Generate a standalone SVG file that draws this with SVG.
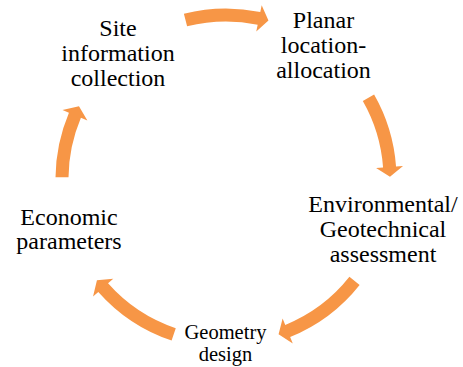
<svg xmlns="http://www.w3.org/2000/svg" width="463" height="367" viewBox="0 0 463 367">
<style>
text{font-family:"Liberation Serif","Times New Roman","DejaVu Serif",serif;font-size:24px;fill:#000;text-anchor:middle}
.sm{font-size:20.5px}
.arr{fill:#F79646}
</style>
<rect width="463" height="367" fill="#fff"/>
<g id="connectors">
<path class="arr" transform="translate(226,179) rotate(11.6)" d="M-74.47,-153.38 A170.5,170.5 0 0 1 0,-170.5 L0,-177.5 L9.73,-163.71 L0,-150.5 L0,-157.5 A157.5,157.5 0 0 0 -68.80,-141.69 Z"/>
<path class="arr" transform="translate(226,179) rotate(85.8)" d="M-73.40,-153.89 A170.5,170.5 0 0 1 0,-170.5 L0,-177.5 L9.73,-163.71 L0,-150.5 L0,-157.5 A157.5,157.5 0 0 0 -67.80,-142.16 Z"/>
<path class="arr" transform="translate(226,179) rotate(157.9)" d="M-83.95,-148.40 A170.5,170.5 0 0 1 0,-170.5 L0,-177.5 L9.73,-163.71 L0,-150.5 L0,-157.5 A157.5,157.5 0 0 0 -77.55,-137.09 Z"/>
<path class="arr" transform="translate(226,179) rotate(228.5)" d="M-84.99,-147.81 A170.5,170.5 0 0 1 0,-170.5 L0,-177.5 L9.73,-163.71 L0,-150.5 L0,-157.5 A157.5,157.5 0 0 0 -78.51,-136.54 Z"/>
<path class="arr" transform="translate(226,179) rotate(292.9)" d="M-64.70,-157.75 A170.5,170.5 0 0 1 0,-170.5 L0,-177.5 L9.73,-163.71 L0,-150.5 L0,-157.5 A157.5,157.5 0 0 0 -59.77,-145.72 Z"/>
</g>
<g id="site">
<text x="118" y="36" font-family="Liberation Serif, serif">Site</text>
<text x="118" y="61" font-family="Liberation Serif, serif">information</text>
<text x="118" y="86" font-family="Liberation Serif, serif">collection</text>
</g>
<g id="planar">
<text x="323.5" y="27.5" font-family="Liberation Serif, serif">Planar</text>
<text x="323.5" y="52.5" font-family="Liberation Serif, serif">location-</text>
<text x="323.5" y="77.5" font-family="Liberation Serif, serif">allocation</text>
</g>
<g id="environmental">
<text x="383" y="212.3" font-family="Liberation Serif, serif">Environmental/</text>
<text x="383" y="237.3" font-family="Liberation Serif, serif">Geotechnical</text>
<text x="383" y="262.3" font-family="Liberation Serif, serif">assessment</text>
</g>
<g id="geometry">
<text class="sm" x="225.5" y="339" font-family="Liberation Serif, serif">Geometry</text>
<text class="sm" x="225.5" y="361" font-family="Liberation Serif, serif">design</text>
</g>
<g id="economic">
<text x="69" y="225.3" font-family="Liberation Serif, serif">Economic</text>
<text x="69" y="249.3" font-family="Liberation Serif, serif">parameters</text>
</g>
</svg>
